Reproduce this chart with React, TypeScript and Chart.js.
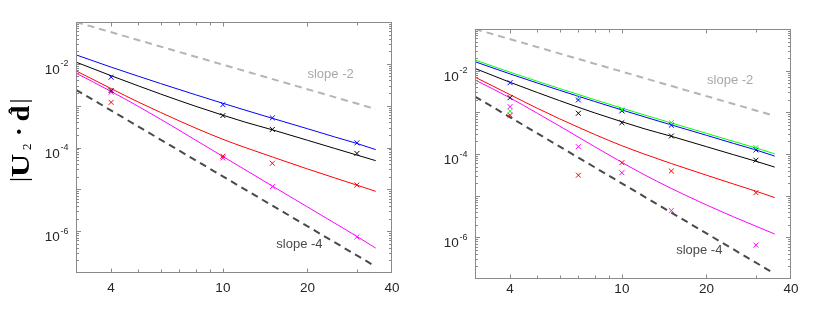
import React, { useEffect, useRef } from "react";
import { Chart, registerables } from "chart.js";

Chart.register(...registerables);

// ---------- data ----------
const curveX = [3, 4, 5, 6, 8, 10, 12, 15, 20, 25, 30, 35];

const leftBlueCurve = [1.64e-2, 8.34e-3, 5.05e-3, 3.38e-3, 1.82e-3, 1.14e-3, 7.83e-4, 4.99e-4, 2.81e-4, 1.79e-4, 1.25e-4, 8.9e-5];
const leftBlackCurve = [1.1e-2, 5.2e-3, 2.97e-3, 1.9e-3, 9.66e-4, 5.92e-4, 4.04e-4, 2.65e-4, 1.49e-4, 9.5e-5, 6.6e-5, 4.85e-5];
const leftRedCurve = [6.8e-3, 2.56e-3, 1.22e-3, 6.9e-4, 2.91e-4, 1.57e-4, 1.0e-4, 5.95e-5, 3.07e-5, 1.88e-5, 1.26e-5, 8.95e-6];
const leftMagentaCurve = [6.0e-3, 2.19e-3, 9.6e-4, 4.75e-4, 1.5e-4, 6.1e-5, 2.94e-5, 1.2e-5, 3.8e-6, 1.56e-6, 7.5e-7, 3.94e-7];

const rightGreenCurve = [1.8e-2, 9.18e-3, 5.56e-3, 3.73e-3, 2.01e-3, 1.26e-3, 8.7e-4, 5.56e-4, 3.13e-4, 2.0e-4, 1.4e-4, 1.01e-4];
const rightBlueCurve = [1.64e-2, 8.34e-3, 5.05e-3, 3.38e-3, 1.82e-3, 1.14e-3, 7.83e-4, 4.99e-4, 2.81e-4, 1.79e-4, 1.25e-4, 8.9e-5];
const rightBlackCurve = [1.13e-2, 5.25e-3, 2.99e-3, 1.91e-3, 9.7e-4, 5.94e-4, 4.05e-4, 2.66e-4, 1.5e-4, 9.6e-5, 6.7e-5, 4.85e-5];
const rightRedCurve = [7.0e-3, 2.65e-3, 1.25e-3, 7.0e-4, 2.95e-4, 1.58e-4, 1.0e-4, 5.9e-5, 3.1e-5, 1.9e-5, 1.28e-5, 9.0e-6];
const rightMagentaCurve = [6.0e-3, 2.22e-3, 9.5e-4, 4.68e-4, 1.5e-4, 6.3e-5, 3.2e-5, 1.49e-5, 6.0e-6, 3.1e-6, 1.85e-6, 1.2e-6];

const leftMarkX = [4, 10, 15, 30];
const leftBlueMarks = [4.8e-3, 1.06e-3, 5.1e-4, 1.29e-4];
const leftBlackMarks = [2.3e-3, 5.8e-4, 2.7e-4, 7.2e-5];
const leftRedMarks = [1.2e-3, 6.2e-5, 4.2e-5, 1.27e-5];
const leftMagentaMarks = [2.1e-3, 5.6e-5, 1.16e-5, 7.3e-7];

const rightMarkX = [4, 7, 10, 15, 30];
const rightBlueMarks = [5.15e-3, 1.98e-3, 1.08e-3, 4.9e-4, 1.25e-4];
const rightGreenMarks = [1.06e-3, 2.25e-3, 1.15e-3, 5.65e-4, 1.42e-4];
const rightBlackMarks = [2.25e-3, 9.5e-4, 5.65e-4, 2.7e-4, 7.1e-5];
const rightRedMarks = [8.5e-4, 3.1e-5, 6.2e-5, 3.9e-5, 1.18e-5];
const rightMagentaMarks = [1.37e-3, 1.5e-4, 3.56e-5, 4.4e-6, 6.5e-7];

const slope2X = [3, 35];
const leftSlope2Y = [0.1, 8.3e-4];
const rightSlope2Y = [0.1, 8.2e-4];
const slope4X = [3, 34];
const leftSlope4Y = [2.4e-3, 1.6e-7];
const rightSlope4Y = [2.4e-3, 1.5e-7];

const xTickLabels = [4, 10, 20, 40];
const xTickMarks = [3, 4, 5, 6, 7, 8, 9, 10, 20, 30, 40];
const yTickExponents = [-2, -4, -6];
const yDecades = [-7, -6, -5, -4, -3, -2, -1];

const slopeTexts = ["slope -2", "slope -4"];
const leftSlopeTextX = [20, 15.5];
const leftSlopeTextY = [5.5e-3, 4.7e-7];
const rightSlopeTextX = [20.1, 15.6];
const rightSlopeTextY = [5.7e-3, 4.8e-7];

// ---------- styles ----------
const SANS = '"Liberation Sans", Arial, Helvetica, sans-serif';
const SERIF = '"Liberation Serif", "DejaVu Serif", "Times New Roman", serif';
const FRAME = "#8a8a8a";
const LABEL = "#262626";
const slopeColors = ["#a8a8a8", "#4a4a4a"];

const pts = (xs: number[], ys: number[]) => xs.map((x, i) => ({ x, y: ys[i] }));

const curve = (data: any[], color: string) => ({
  data,
  borderColor: color,
  backgroundColor: color,
  borderWidth: 1,
  pointRadius: 0,
  fill: false,
  tension: 0.3,
  cubicInterpolationMode: "monotone",
});

const marks = (data: any[], color: string) => ({
  data,
  showLine: false,
  borderColor: color,
  backgroundColor: color,
  pointStyle: "crossRot",
  pointRadius: 3.5,
  pointBorderWidth: 1,
  pointBorderColor: color,
});

const dashed = (data: any[], color: string) => ({
  data,
  borderColor: color,
  backgroundColor: color,
  borderWidth: 2,
  borderDash: [7, 5],
  pointRadius: 0,
  fill: false,
  tension: 0,
});

const axesPlugin = {
  id: "matlabAxes",
  afterDatasetsDraw(chart: any, _args: any, opts: any) {
    const { ctx, chartArea: a, scales } = chart;
    const xs = scales.x;
    const ys = scales.y;
    ctx.save();
    // frame
    ctx.strokeStyle = FRAME;
    ctx.lineWidth = 1;
    const L = Math.round(a.left) + 0.5;
    const R = Math.round(a.right) - 0.5;
    const T = Math.round(a.top) + 0.5;
    const B = Math.round(a.bottom) - 0.5;
    ctx.strokeRect(L, T, R - L, B - T);
    ctx.beginPath();
    xTickMarks.forEach((v) => {
      const px = Math.round(xs.getPixelForValue(v)) + 0.5;
      if (px <= L + 1 || px >= R - 1) return;
      const len = xTickLabels.includes(v) ? 4 : 3;
      ctx.moveTo(px, B);
      ctx.lineTo(px, B - len);
      ctx.moveTo(px, T);
      ctx.lineTo(px, T + len);
    });
    yDecades.forEach((e) => {
      for (let k = 1; k <= 9; k++) {
        const v = k * Math.pow(10, e);
        if (v > 0.1 * 1.0001) break;
        const py = Math.round(ys.getPixelForValue(v)) + 0.5;
        if (py <= T + 1 || py >= B - 1) continue;
        const len = k === 1 ? 4.5 : 2.5;
        ctx.moveTo(L, py);
        ctx.lineTo(L + len, py);
        ctx.moveTo(R, py);
        ctx.lineTo(R - len, py);
      }
    });
    ctx.stroke();

    // x tick labels
    ctx.fillStyle = LABEL;
    ctx.font = `13.5px ${SANS}`;
    ctx.textAlign = "center";
    ctx.textBaseline = "alphabetic";
    xTickLabels.forEach((v) => {
      const px = xs.getPixelForValue(v);
      ctx.fillText(String(v), px, a.bottom + opts.xLabelOffset);
    });

    // y tick labels 10^e
    yTickExponents.forEach((e) => {
      const py = ys.getPixelForValue(Math.pow(10, e));
      ctx.font = `9px ${SANS}`;
      const sup = String(e);
      const supW = ctx.measureText(sup).width;
      const supX = a.left - 7.5 - supW;
      ctx.textAlign = "left";
      ctx.fillText(sup, supX, py + 2.5);
      ctx.font = `13.5px ${SANS}`;
      ctx.textAlign = "right";
      ctx.fillText("10", supX - 0.8, py + 10);
    });

    // slope annotations
    ctx.font = `13px ${SANS}`;
    ctx.textAlign = "left";
    ctx.textBaseline = "middle";
    slopeTexts.forEach((t, i) => {
      ctx.fillStyle = slopeColors[i];
      ctx.fillText(t, xs.getPixelForValue(opts.textX[i]), ys.getPixelForValue(opts.textY[i]));
    });

    // y-axis title
    if (opts.yTitle) {
      ctx.fillStyle = "#000";
      ctx.textBaseline = "alphabetic";
      ctx.translate(28.5, 181.5);
      ctx.rotate(-Math.PI / 2);
      ctx.textAlign = "left";
      ctx.font = `25px ${SERIF}`;
      ctx.fillText("|", -0.5, -1.5);
      ctx.font = `bold 26px ${SERIF}`;
      ctx.save();
      ctx.scale(1.25, 1);
      ctx.fillText("U", 4.2 / 1.25, 0);
      ctx.restore();
      ctx.font = `13px ${SERIF}`;
      ctx.fillText("2", 31.5, 2);
      ctx.font = `bold 26px ${SERIF}`;
      ctx.fillText("·", 45.5, -1.5);
      ctx.save();
      ctx.scale(1.1, 1);
      ctx.fillText("d", 60 / 1.1, 0);
      ctx.restore();
      ctx.font = `24px ${SERIF}`;
      ctx.textAlign = "center";
      ctx.fillText("ˆ", 70.5, -4);
      ctx.textAlign = "left";
      ctx.font = `25px ${SERIF}`;
      ctx.fillText("|", 78, -1.5);
    }
    ctx.restore();
  },
};

function Panel(props: { left: number; width: number; padding: any; datasets: any[]; plug: any }) {
  const ref = useRef<HTMLCanvasElement>(null);
  useEffect(() => {
    const chart = new Chart(ref.current as HTMLCanvasElement, {
      type: "line",
      data: { datasets: props.datasets },
      options: {
        animation: false,
        responsive: false,
        devicePixelRatio: 1,
        events: [],
        layout: { padding: props.padding },
        plugins: {
          legend: { display: false },
          tooltip: { enabled: false },
          matlabAxes: props.plug,
        } as any,
        scales: {
          x: { type: "logarithmic", min: 3, max: 40, display: false },
          y: { type: "logarithmic", min: 1e-7, max: 1e-1, display: false },
        },
      } as any,
      plugins: [axesPlugin],
    });
    return () => chart.destroy();
  }, []);
  return (
    <canvas
      ref={ref}
      width={props.width}
      height={313}
      style={{ position: "absolute", left: props.left, top: 0, width: props.width, height: 313 }}
    />
  );
}

export default function App() {
  const leftSets = [
    marks(pts(leftMarkX, leftBlueMarks), "#0000ff"),
    marks(pts(leftMarkX, leftBlackMarks), "#000000"),
    marks(pts(leftMarkX, leftRedMarks), "#ff0000"),
    marks(pts(leftMarkX, leftMagentaMarks), "#ff00ff"),
    curve(pts(curveX, leftBlueCurve), "#0000ff"),
    curve(pts(curveX, leftBlackCurve), "#000000"),
    curve(pts(curveX, leftRedCurve), "#ff0000"),
    curve(pts(curveX, leftMagentaCurve), "#ff00ff"),
    dashed(pts(slope2X, leftSlope2Y), "#b5b5b5"),
    dashed(pts(slope4X, leftSlope4Y), "#4a4a4a"),
  ];
  const rightSets = [
    marks(pts(rightMarkX, rightGreenMarks), "#00ff00"),
    marks(pts(rightMarkX, rightBlueMarks), "#0000ff"),
    marks(pts(rightMarkX, rightBlackMarks), "#000000"),
    marks(pts(rightMarkX, rightRedMarks), "#ff0000"),
    marks(pts(rightMarkX, rightMagentaMarks), "#ff00ff"),
    curve(pts(curveX, rightBlueCurve), "#0000ff"),
    curve(pts(curveX, rightGreenCurve), "#00ff00"),
    curve(pts(curveX, rightBlackCurve), "#000000"),
    curve(pts(curveX, rightRedCurve), "#ff0000"),
    curve(pts(curveX, rightMagentaCurve), "#ff00ff"),
    dashed(pts(slope2X, rightSlope2Y), "#b5b5b5"),
    dashed(pts(slope4X, rightSlope4Y), "#4a4a4a"),
  ];
  return (
    <div style={{ position: "absolute", left: 0, top: 0, width: 830, height: 313, background: "#fff" }}>
      <Panel
        left={0}
        width={420}
        padding={{ left: 76, right: 28, top: 22, bottom: 40 }}
        datasets={leftSets}
        plug={{ xLabelOffset: 19, textX: leftSlopeTextX, textY: leftSlopeTextY, yTitle: true }}
      />
      <Panel
        left={420}
        width={410}
        padding={{ left: 55, right: 39, top: 29, bottom: 34 }}
        datasets={rightSets}
        plug={{ xLabelOffset: 14, textX: rightSlopeTextX, textY: rightSlopeTextY, yTitle: false }}
      />
    </div>
  );
}
